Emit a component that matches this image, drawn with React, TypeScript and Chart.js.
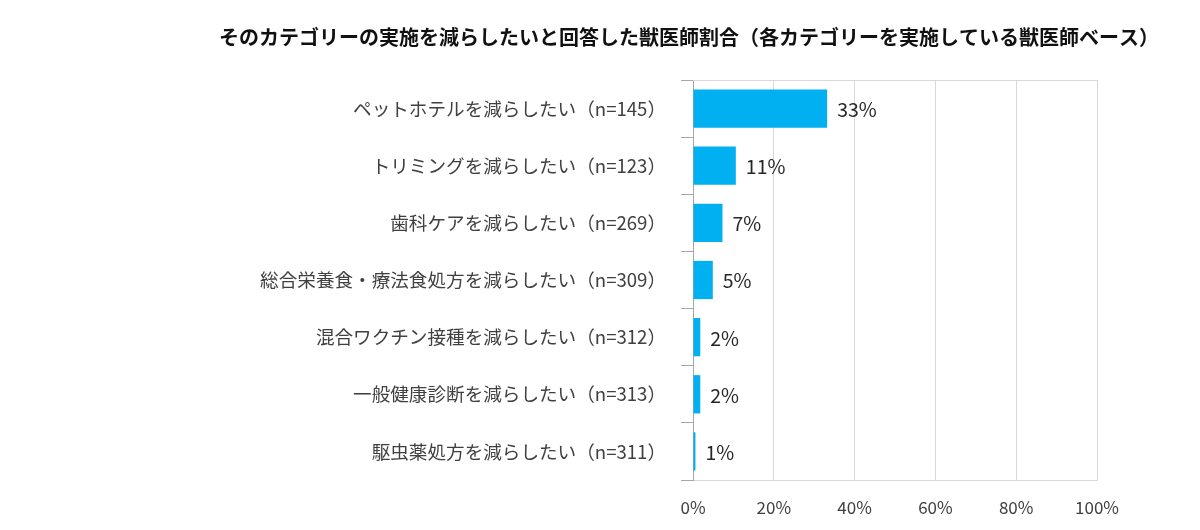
import React, { useEffect, useRef } from "react";
import { Chart, registerables } from "chart.js";

Chart.register(...registerables);

const TITLE = "そのカテゴリーの実施を減らしたいと回答した獣医師割合（各カテゴリーを実施している獣医師ベース）";
const categories = [
  "ペットホテルを減らしたい（n=145）",
  "トリミングを減らしたい（n=123）",
  "歯科ケアを減らしたい（n=269）",
  "総合栄養食・療法食処方を減らしたい（n=309）",
  "混合ワクチン接種を減らしたい（n=312）",
  "一般健康診断を減らしたい（n=313）",
  "駆虫薬処方を減らしたい（n=311）",
];
const values = [33.2, 10.6, 7.3, 4.9, 1.8, 1.8, 0.6];
const valueLabels = ["33%", "11%", "7%", "5%", "2%", "2%", "1%"];
const xTicks = [0, 20, 40, 60, 80, 100];

const FONT = "'Noto Sans CJK JP', 'Noto Sans', sans-serif";

export default function App() {
  const ref = useRef<HTMLCanvasElement | null>(null);
  useEffect(() => {
    document.body.style.margin = "0";
    const canvas = ref.current!;
    const overlay = {
      id: "overlay",
      afterDraw(chart: any) {
        const ctx = chart.ctx;
        const area = chart.chartArea;
        ctx.save();
        // top border
        ctx.strokeStyle = "#D9D9D9";
        ctx.lineWidth = 1;
        ctx.beginPath();
        ctx.moveTo(area.left, area.top + 0.5);
        ctx.lineTo(area.right, area.top + 0.5);
        ctx.stroke();
        // title
        ctx.fillStyle = "#111111";
        ctx.font = `bold 20px ${FONT}`;
        ctx.textAlign = "center";
        ctx.textBaseline = "middle";
        ctx.fillText(TITLE, 689, 37);
        // data labels
        const meta = chart.getDatasetMeta(0);
        ctx.font = `19.5px ${FONT}`;
        ctx.fillStyle = "#262626";
        ctx.textAlign = "left";
        meta.data.forEach((bar: any, i: number) => {
          ctx.fillText(valueLabels[i], bar.x + 10, bar.y + 1);
        });
        ctx.restore();
      },
    };
    const chart = new Chart(canvas, {
      type: "bar",
      data: {
        labels: categories,
        datasets: [
          {
            data: values,
            backgroundColor: "#00B0F0",
            borderWidth: 0,
            barPercentage: 0.67,
            categoryPercentage: 1,
          },
        ],
      },
      options: {
        indexAxis: "y",
        responsive: false,
        animation: false,
        layout: { padding: { top: 80, right: 103, left: 0, bottom: 0 } },
        plugins: {
          legend: { display: false },
          title: { display: false },
          tooltip: { enabled: false },
        },
        scales: {
          x: {
            min: 0,
            max: 100,
            afterFit(scale: any) {
              scale.height = 50;
            },
            afterBuildTicks(scale: any) {
              scale.ticks = xTicks.map((v) => ({ value: v }));
            },
            grid: {
              color: "#D9D9D9",
              drawTicks: false,
            },
            border: { display: true, color: "#D9D9D9" },
            ticks: {
              padding: 17,
              color: "#404040",
              font: { family: FONT, size: 17 },
              callback: (v: any) => `${v}%`,
            },
          },
          y: {
            afterFit(scale: any) {
              scale.width = 693;
            },
            grid: {
              offset: true,
              drawOnChartArea: false,
              drawTicks: true,
              tickLength: 12,
              color: "#A6A6A6",
            },
            border: { display: true, color: "#A6A6A6" },
            ticks: {
              padding: 15,
              color: "#404040",
              font: { family: FONT, size: 18.6 },
            },
          },
        },
      },
      plugins: [overlay],
    } as any);
    return () => chart.destroy();
  }, []);
  return (
    <div style={{ position: "absolute", left: 0, top: 0, width: 1200, height: 530, background: "#fff" }}>
      <canvas ref={ref} width={1200} height={530} />
    </div>
  );
}
